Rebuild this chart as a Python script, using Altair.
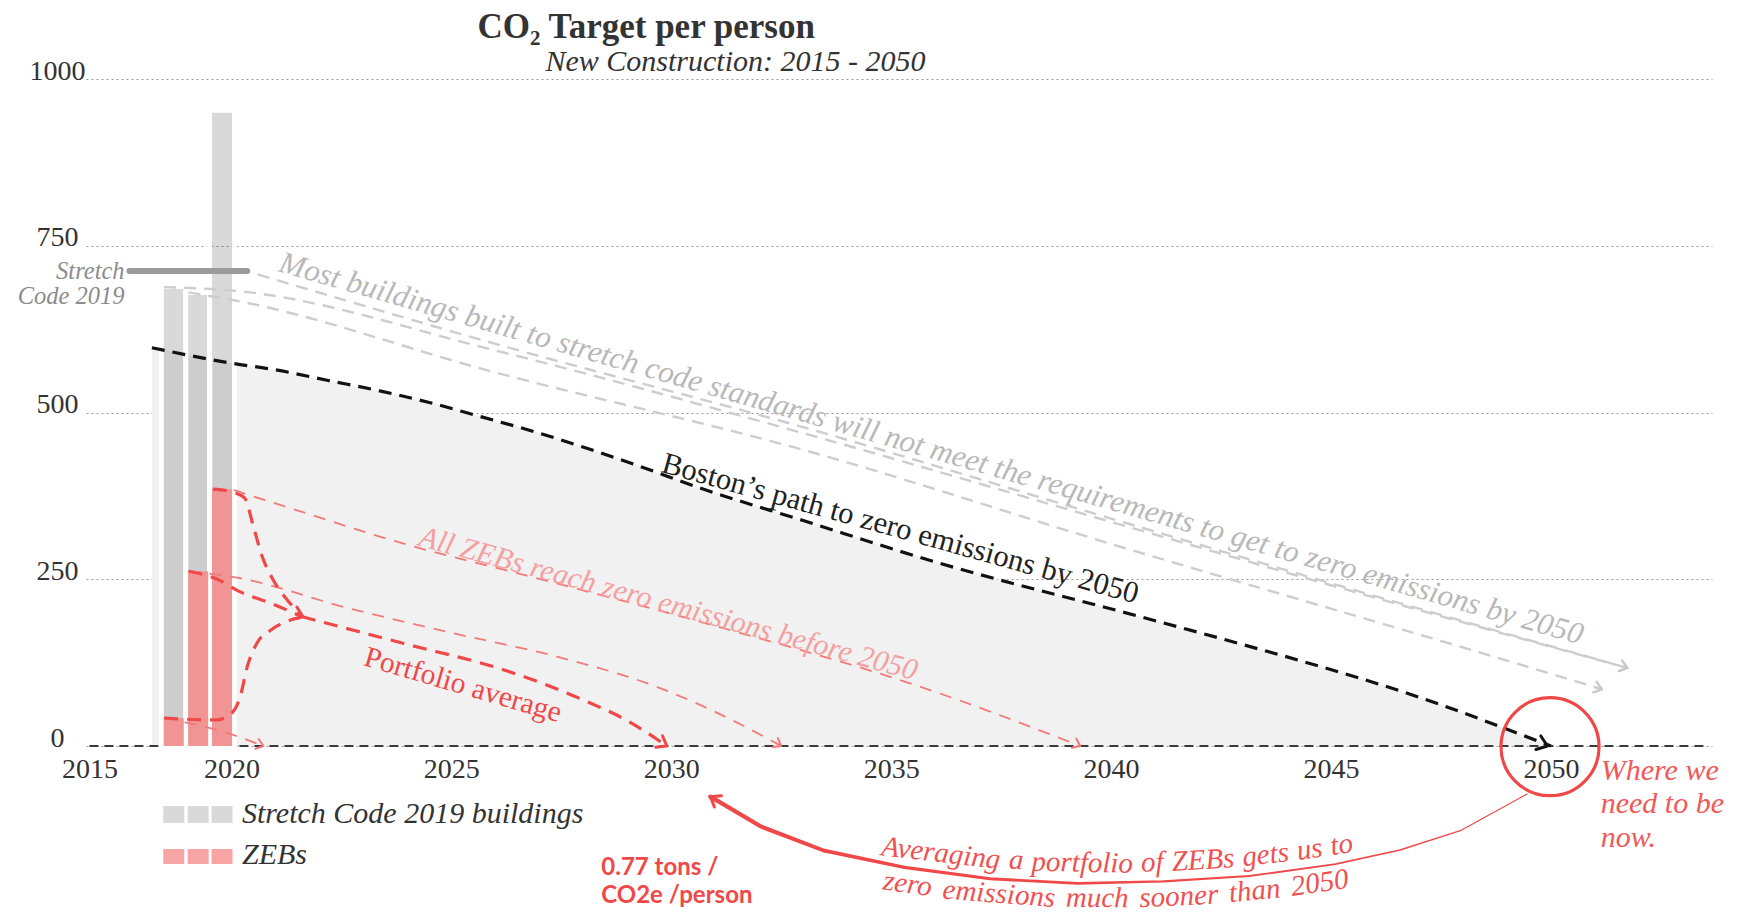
import math
import altair as alt
import pandas as pd

# ---------------- values ----------------
X_TICKS = [2015, 2020, 2025, 2030, 2035, 2040, 2045, 2050]
Y_TICKS = [0, 250, 500, 750, 1000]

BAR_POS = [2017.97, 2018.83, 2019.67]          # three sample buildings
STRETCH_2019 = [689, 680, 953]                 # Stretch Code 2019 buildings
ZEB = [42, 262, 385]                           # ZEBs

STRETCH_CODE = 712
STRETCH_CODE_SPAN = [2016.41, 2020.36]

BOSTON_YEARS = [2017.2, 2020.0, 2021.0, 2022.2, 2023.4, 2024.5, 2025.6, 2026.9, 2028.1,
                2029.3, 2030.6, 2033.0, 2036.0, 2040.6, 2043.0, 2044.4, 2046.6, 2050.0]
BOSTON_VALS = [597, 574, 564, 548, 532, 515, 495, 471, 446,
               419, 388, 338, 276, 195, 152, 126, 82, 0]

GRAY_A_YEARS = [2020.6, 2026.0, 2033.0, 2040.0, 2045.0, 2051.8]
GRAY_A_VALS = [707, 603, 478, 341, 244, 117]
GRAY_B_YEARS = [2017.63, 2020.0, 2026.0, 2033.0, 2040.0, 2045.0, 2051.8]
GRAY_B_VALS = [688, 683, 593, 469, 336, 241, 117]
GRAY_C_YEARS = [2018.49, 2020.0, 2026.0, 2033.0, 2040.0, 2048.8, 2051.2]
GRAY_C_VALS = [680, 669, 560, 444, 303, 132, 85]

ZEB3_YEARS = [2019.35, 2020.0, 2020.4, 2024.1, 2026.8, 2031.0, 2035.7, 2039.3]
ZEB3_VALS = [385, 384, 376, 300, 254, 180, 88, 0]
ZEB2_YEARS = [2018.49, 2020.0, 2022.7, 2025.05, 2027.4, 2029.7, 2031.5, 2032.5]
ZEB2_VALS = [262, 254, 206, 169, 134, 88, 35, 0]
ZEB1_YEARS = [2017.63, 2018.25, 2019.5, 2020.73]
ZEB1_VALS = [42, 36.5, 24, 0]

PORT3_YEARS = [2019.35, 2020.0, 2020.3, 2020.5, 2020.7, 2020.95, 2021.27, 2021.6]
PORT3_VALS = [385, 381, 372, 329, 284, 249, 219, 196]
PORT1_YEARS = [2017.63, 2019.44, 2020.0, 2020.2, 2020.36, 2020.58, 2020.9, 2021.35, 2021.6]
PORT1_VALS = [42, 39, 49, 74, 119, 154, 174, 189, 193]
PORT2_YEARS = [2018.49, 2019.45, 2020.2, 2020.9, 2021.6]
PORT2_VALS = [262, 251, 231, 214, 194]
PORT_AVG_YEARS = [2021.6, 2023.9, 2026.2, 2028.0, 2029.0, 2029.9]
PORT_AVG_VALS = [194, 154, 114, 69, 38, 0]

SWOOP_YEARS = [2030.89, 2032.05, 2033.48, 2035.30, 2037.25, 2039.23, 2041.19,
               2043.14, 2045.10, 2046.57, 2047.94, 2049.46]
SWOOP_VALS = [-76, -121, -157, -182, -199, -206, -203, -195, -177, -156, -127, -72]
SWOOP_WIDTH = [4.4, 4.1, 3.8, 3.4, 3.0, 2.6, 2.3, 2.0, 1.7, 1.5, 1.3, 1.2]

# ---------------- layout ----------------
W, H = 1626, 667
X_DOMAIN = [2015, 2020, 2050]
X_RANGE = [0, 145.4, 1464.9]
PX_PER_YEAR = (X_RANGE[2] - X_RANGE[1]) / (X_DOMAIN[2] - X_DOMAIN[1])
PX_PER_UNIT = H / 1000.0
X_END = X_DOMAIN[2] + (W - X_RANGE[2]) / PX_PER_YEAR   # year at the right edge of the plot

SERIF = "Liberation Serif"
RED = "#f04848"

XS = alt.Scale(domain=X_DOMAIN + [X_END], range=X_RANGE + [W], nice=False, zero=False)
YS = alt.Scale(domain=[0, 1000], nice=False, zero=False)
XAX = alt.Axis(values=X_TICKS, format="d", labelFont=SERIF, labelFontSize=28,
               labelColor="#333333", domain=False, ticks=False, tickSize=0, grid=False,
               labelPadding=31, labelBaseline="alphabetic", labelFlush=False,
               labelOverlap=False, title=None)
YAX = alt.Axis(values=Y_TICKS, format="d", labelFont=SERIF, labelFontSize=28,
               labelColor="#333333", domain=False, ticks=False, tickSize=0, grid=True,
               gridDash=[2, 3], gridColor="#9a9a9a", gridWidth=1, labelAlign="center",
               labelPadding=29, labelBaseline="alphabetic", labelFlush=False, title=None)


def XE(f="x"):
    return alt.X(f"{f}:Q", scale=XS, axis=XAX)


def YE(f="y"):
    return alt.Y(f"{f}:Q", scale=YS, axis=YAX)


def series(pairs):
    rows = []
    for name, xs, ys in pairs:
        for x, y in zip(xs, ys):
            rows.append({"s": name, "x": x, "y": y})
    return pd.DataFrame(rows)


def lines(pairs, **mk):
    return alt.Chart(series(pairs)).mark_line(interpolate="monotone", **mk).encode(
        x=XE(), y=YE(), detail="s:N")


CHEVRON = "M-1.2,-0.9L0,0L-1.2,0.9"


def arrows(rows, size, color, sw):
    return alt.Chart(pd.DataFrame(rows)).mark_point(
        shape=CHEVRON, filled=False, size=size, stroke=color, strokeWidth=sw,
        opacity=1, strokeCap="round", strokeJoin="round").encode(
        x=XE(), y=YE(), angle=alt.Angle("a:Q", scale=None))


def texts(rows, **mk):
    df = pd.DataFrame(rows)
    enc = dict(x=XE(), y=YE(), text="t:N")
    if "a" in df.columns:
        enc["angle"] = alt.Angle("a:Q", scale=None)
    return alt.Chart(df).mark_text(**mk).encode(**enc)


# widths of Times-metric italic glyphs (per 1000 em) for laying words on the arc
W_IT = {" ": 250, "A": 611, "v": 444, "e": 444, "r": 389, "a": 500, "g": 500, "i": 278,
        "n": 500, "p": 500, "o": 500, "t": 278, "f": 278, "l": 278, "Z": 556, "E": 611,
        "B": 611, "s": 389, "u": 500, "z": 389, "m": 722, "c": 444, "h": 500}


def est_width(s, size):
    return sum(W_IT.get(c, 500) for c in s) * size / 1000.0


def arc_words(line, center_year, vx, vy, curv, size, span_px):
    words = line.split(" ")
    ws = [est_width(w, size) for w in words]
    gap = (span_px - sum(ws)) / (len(words) - 1)
    yrs = [vx + (i - 700) * 0.5 / PX_PER_YEAR for i in range(1401)]
    pts = [((yy - vx) * PX_PER_YEAR, -(vy + curv * (yy - vx) ** 2) * PX_PER_UNIT) for yy in yrs]
    s = [0.0]
    for a, b in zip(pts, pts[1:]):
        s.append(s[-1] + math.hypot(b[0] - a[0], b[1] - a[1]))

    def year_at(target):
        for i in range(1, len(s)):
            if s[i] >= target:
                f = (target - s[i - 1]) / (s[i] - s[i - 1])
                return yrs[i - 1] + f * (yrs[i] - yrs[i - 1])
        return yrs[-1]

    ci = min(range(len(yrs)), key=lambda i: abs(yrs[i] - center_year))
    pos = s[ci] - span_px / 2
    rows = []
    for w, wd in zip(words, ws):
        yr = year_at(pos + wd / 2)
        v = vy + curv * (yr - vx) ** 2
        slope = -2 * curv * (yr - vx) * PX_PER_UNIT / PX_PER_YEAR
        rows.append({"x": yr, "y": v, "t": w, "a": math.degrees(math.atan(slope)) % 360})
        pos += wd + gap
    return rows


# ---------------- layers ----------------
boston_df = pd.DataFrame({"x": BOSTON_YEARS, "y": BOSTON_VALS, "y0": 0})
bars_df = pd.DataFrame({"x": BAR_POS, "stretch": STRETCH_2019, "zeb": ZEB, "y0": 0})

area = alt.Chart(boston_df).mark_area(color="#f1f1f1", interpolate="monotone").encode(
    x=XE(), y=YE(), y2=alt.Y2("y0:Q"))

zero_line = alt.Chart(pd.DataFrame({"x": [2015], "x2": [2053.6], "y": [0]})).mark_rule(
    color="#3a3a3a", strokeWidth=2, strokeDash=[9, 6]).encode(
    x=XE(), x2=alt.X2("x2:Q"), y=YE())

gray_bars = alt.Chart(bars_df).mark_bar(size=25, fill="#000000", fillOpacity=0.15,
                                        stroke="#ffffff", strokeWidth=5).encode(
    x=XE(), y=YE("stretch"), y2=alt.Y2("y0:Q"))
red_bars = alt.Chart(bars_df).mark_bar(size=20, color="#f19494").encode(
    x=XE(), y=YE("zeb"), y2=alt.Y2("y0:Q"))

stretch_line = alt.Chart(pd.DataFrame({"x": [STRETCH_CODE_SPAN[0]], "x2": [STRETCH_CODE_SPAN[1]],
                                       "y": [STRETCH_CODE]})).mark_rule(
    color="#9b9b9b", strokeWidth=6, strokeCap="round").encode(
    x=XE(), x2=alt.X2("x2:Q"), y=YE())

gray_lines = lines([("a", GRAY_A_YEARS, GRAY_A_VALS), ("b", GRAY_B_YEARS, GRAY_B_VALS),
                    ("c", GRAY_C_YEARS, GRAY_C_VALS)],
                   color="#cdcdcd", strokeWidth=2.4, strokeDash=[12, 8])
boston_line = lines([("boston", BOSTON_YEARS, BOSTON_VALS)],
                    color="#111111", strokeWidth=3.2, strokeDash=[13, 8])
zeb_lines = lines([("z3", ZEB3_YEARS, ZEB3_VALS), ("z2", ZEB2_YEARS, ZEB2_VALS),
                   ("z1", ZEB1_YEARS, ZEB1_VALS)],
                  color="#f27a7a", strokeWidth=1.8, strokeDash=[12, 9])
port_lines = lines([("p3", PORT3_YEARS, PORT3_VALS), ("p1", PORT1_YEARS, PORT1_VALS),
                    ("p2", PORT2_YEARS, PORT2_VALS), ("avg", PORT_AVG_YEARS, PORT_AVG_VALS)],
                   color=RED, strokeWidth=3.2, strokeDash=[14, 9])

arr_black = arrows([{"x": 2049.92, "y": 0, "a": 20}], 256, "#111111", 3)
arr_gray = arrows([{"x": GRAY_A_YEARS[-1], "y": GRAY_A_VALS[-1], "a": 16.5},
                   {"x": GRAY_C_YEARS[-1], "y": GRAY_C_VALS[-1], "a": 17}], 150, "#c8c8c8", 2.4)
arr_thin = arrows([{"x": ZEB1_YEARS[-1], "y": 0, "a": 18},
                   {"x": ZEB2_YEARS[-1], "y": 0, "a": 30},
                   {"x": ZEB3_YEARS[-1], "y": 0, "a": 25}], 130, "#f27a7a", 2)
arr_thick = arrows([{"x": 2021.62, "y": 194, "a": 22},
                    {"x": PORT_AVG_YEARS[-1], "y": 0, "a": 30},
                    {"x": SWOOP_YEARS[0], "y": SWOOP_VALS[0], "a": 212}], 220, RED, 3)

circle = alt.Chart(pd.DataFrame({"x": [2049.98], "y": [-1]})).mark_point(
    shape="circle", size=9604, filled=False, stroke=RED, strokeWidth=3.2, opacity=1).encode(
    x=XE(), y=YE())

swoop = alt.Chart(pd.DataFrame({"x": SWOOP_YEARS, "y": SWOOP_VALS, "w": SWOOP_WIDTH})).mark_trail(
    color=RED).encode(x=XE(), y=YE(), size=alt.Size("w:Q", scale=None))

title = texts([{"x": 2029.43, "y": 1061, "t": "CO₂ Target per person"}],
              font=SERIF, fontSize=35, fontWeight="bold", color="#333333",
              align="center", baseline="alphabetic")
subtitle = texts([{"x": 2031.46, "y": 1012, "t": "New Construction: 2015 - 2050"}],
                 font=SERIF, fontSize=30, fontStyle="italic", color="#333333",
                 align="center", baseline="alphabetic")

stretch_lbl = texts([{"x": 2016.24, "y": 700, "t": "Stretch"},
                     {"x": 2016.24, "y": 663, "t": "Code 2019"}],
                    font=SERIF, fontSize=24.5, fontStyle="italic", color="#8c8c8c",
                    align="right", baseline="alphabetic")

most_lbl = texts([{"x": 2021.05, "y": 712, "a": 16.0,
                   "t": "Most buildings built to stretch code standards will not meet the "
                        "requirements to get to zero emissions by 2050"}],
                 font=SERIF, fontSize=31, fontStyle="italic", color="#b8b8b8",
                 align="left", baseline="alphabetic")
boston_lbl = texts([{"x": 2029.75, "y": 411, "a": 15.5,
                     "t": "Boston’s path to zero emissions by 2050"}],
                   font=SERIF, fontSize=30.5, color="#222222", align="left", baseline="alphabetic")
allzeb_lbl = texts([{"x": 2024.23, "y": 301, "a": 15.2,
                     "t": "All ZEBs reach zero emissions before 2050"}],
                   font=SERIF, fontSize=30, fontStyle="italic", color="#f4a0a0",
                   align="left", baseline="alphabetic")
port_lbl = texts([{"x": 2022.98, "y": 121.4, "a": 16.3, "t": "Portfolio average"}],
                 font=SERIF, fontSize=29.5, color=RED, align="left", baseline="alphabetic")

where_lbl = texts([{"x": 2051.17, "y": -51, "t": "Where we"},
                   {"x": 2051.17, "y": -100.5, "t": "need to be"},
                   {"x": 2051.17, "y": -151.4, "t": "now."}],
                  font=SERIF, fontSize=30, fontStyle="italic", color="#f15858",
                  align="left", baseline="alphabetic")

tons_lbl = texts([{"x": 2028.41, "y": -194, "t": "0.77 tons /"},
                  {"x": 2028.41, "y": -235, "t": "CO2e /person"}],
                 font="Lato", fontSize=24, fontWeight="bold", color=RED,
                 align="left", baseline="alphabetic")

arc1 = texts(arc_words("Averaging a portfolio of ZEBs gets us to", 2040.14, 2039.98, -189, 1.0, 29, 476),
             font=SERIF, fontSize=29, fontStyle="italic", color="#f15050",
             align="center", baseline="alphabetic")
arc2 = texts(arc_words("zero emissions much sooner than 2050", 2040.11, 2039.98, -241.5, 1.0, 29, 470),
             font=SERIF, fontSize=29, fontStyle="italic", color="#f15050",
             align="center", baseline="alphabetic")

legend_df = pd.DataFrame({"x": BAR_POS})
legend_gray = alt.Chart(legend_df).transform_calculate(top="-90", bot="-115.4").mark_bar(
    size=21, color="#d9d9d9").encode(x=XE(), y=YE("top"), y2=alt.Y2("bot:Q"))
legend_red = alt.Chart(legend_df).transform_calculate(top="-154.4", bot="-176.9").mark_bar(
    size=21, color="#f7a4a4").encode(x=XE(), y=YE("top"), y2=alt.Y2("bot:Q"))
legend_lbl = texts([{"x": 2020.24, "y": -115.4, "t": "Stretch Code 2019 buildings"},
                    {"x": 2020.24, "y": -177, "t": "ZEBs"}],
                   font=SERIF, fontSize=30, fontStyle="italic", color="#333333",
                   align="left", baseline="alphabetic")

chart = alt.layer(
    area, zero_line, gray_bars, red_bars, stretch_line, gray_lines, boston_line,
    zeb_lines, port_lines, arr_black, arr_gray, arr_thin, arr_thick, circle, swoop,
    title, subtitle, stretch_lbl, most_lbl, boston_lbl, allzeb_lbl, port_lbl,
    where_lbl, tons_lbl, arc1, arc2, legend_gray, legend_red, legend_lbl,
).properties(
    width=W, height=H,
    padding={"left": 78, "top": 71, "right": 20, "bottom": 166},
    autosize=alt.AutoSizeParams(type="none"),
).configure_view(strokeWidth=0)

chart.save("out.html", embed_options={"renderer": "svg", "actions": False})
